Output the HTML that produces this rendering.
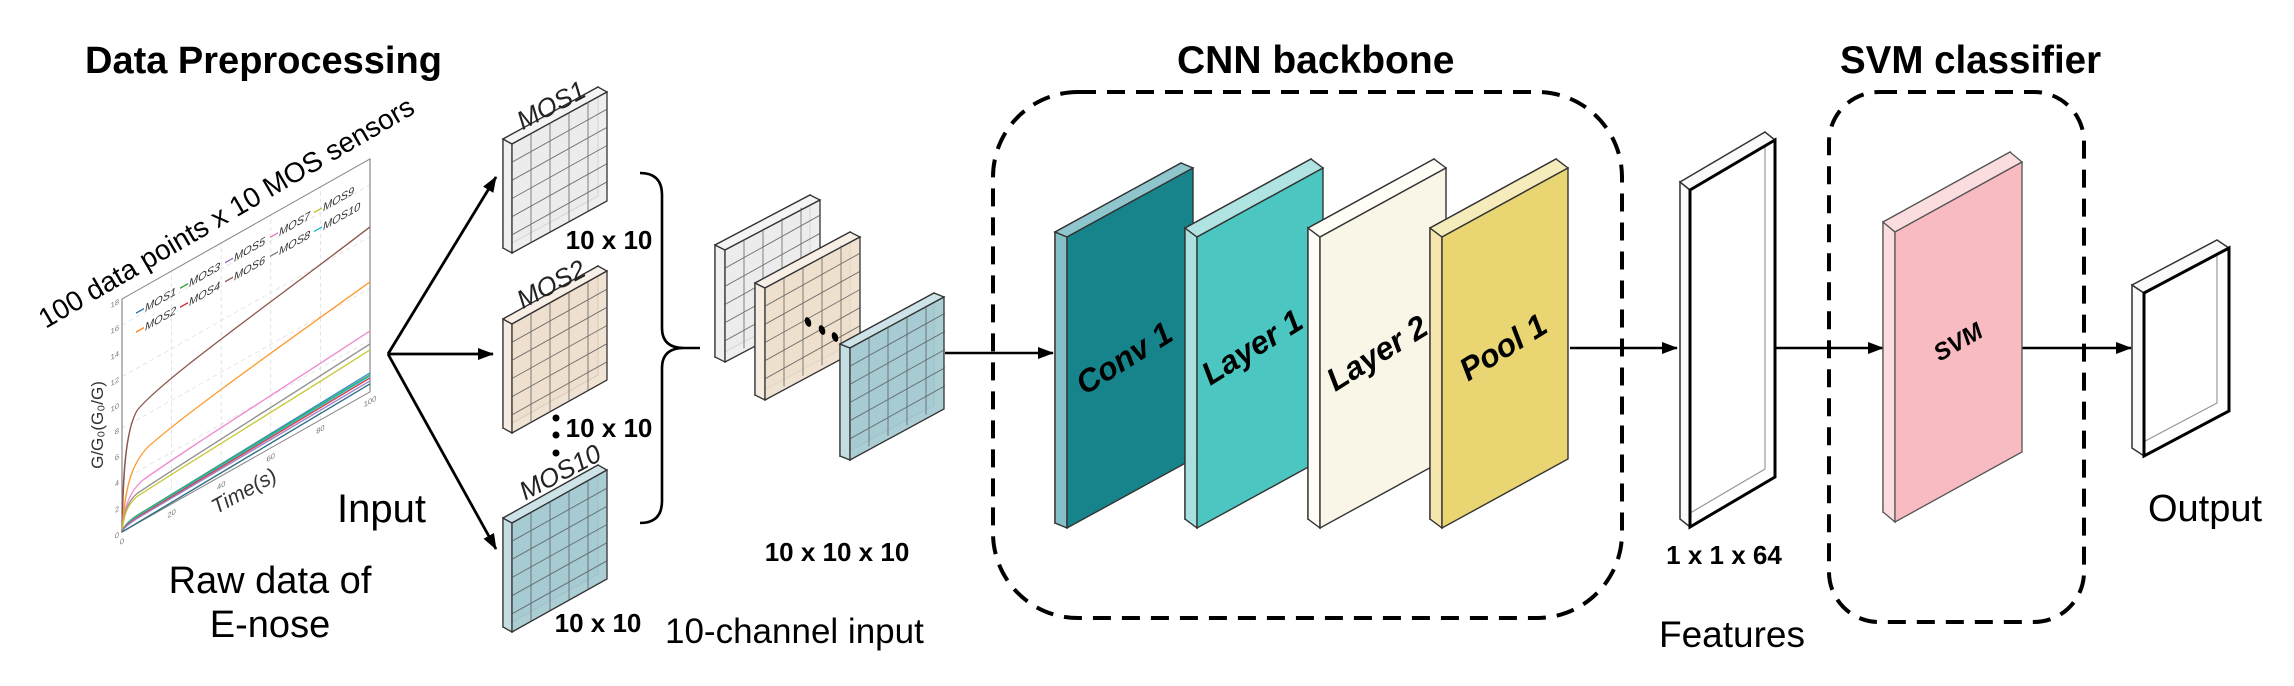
<!DOCTYPE html>
<html><head><meta charset="utf-8"><style>
html,body{margin:0;padding:0;background:#fff;}
svg{display:block;font-family:"Liberation Sans",sans-serif;}
</style></head><body>
<svg width="2294" height="686" viewBox="0 0 2294 686" xmlns="http://www.w3.org/2000/svg">
<defs>
<marker id="ah" markerWidth="16" markerHeight="12" refX="15" refY="6" orient="auto" markerUnits="userSpaceOnUse">
<path d="M0,0 L16,6 L0,12 Z" fill="#000"/></marker>
<g id="grid" stroke="#555" stroke-width="0.9" opacity="0.8">
<line x1="19" y1="-10.6" x2="19" y2="98.4"/><line x1="38" y1="-21.2" x2="38" y2="87.8"/>
<line x1="57" y1="-31.8" x2="57" y2="77.2"/><line x1="76" y1="-42.4" x2="76" y2="66.6"/>
<line x1="0" y1="18.2" x2="95" y2="-34.8"/><line x1="0" y1="36.3" x2="95" y2="-16.7"/>
<line x1="0" y1="54.5" x2="95" y2="1.5"/><line x1="0" y1="72.7" x2="95" y2="19.7"/>
<line x1="0" y1="90.8" x2="95" y2="37.8"/>
</g>
</defs>

<!-- Titles -->
<text x="85" y="73" font-size="38" font-weight="bold">Data Preprocessing</text>
<text x="1177" y="73" font-size="39" font-weight="bold">CNN backbone</text>
<text x="1840" y="73" font-size="38.5" font-weight="bold">SVM classifier</text>

<!-- Chart -->
<text x="226" y="222" font-size="28" text-anchor="middle" transform="rotate(-30.3 226 212)">100 data points x 10 MOS sensors</text>
<g transform="matrix(1,-0.565,0,1,122,532)">
<g stroke="#ddd" stroke-width="0.8" stroke-dasharray="4 3">
<line x1="49.6" y1="0" x2="49.6" y2="-233"/><line x1="99.2" y1="0" x2="99.2" y2="-233"/>
<line x1="148.8" y1="0" x2="148.8" y2="-233"/><line x1="198.4" y1="0" x2="198.4" y2="-233"/>
<line x1="0" y1="-51.8" x2="248" y2="-51.8"/><line x1="0" y1="-103.6" x2="248" y2="-103.6"/>
<line x1="0" y1="-155.3" x2="248" y2="-155.3"/><line x1="0" y1="-207" x2="248" y2="-207"/>
</g>
<rect x="0" y="-233" width="248" height="233" fill="none" stroke="#888" stroke-width="1.2"/>
<g fill="none" stroke-width="1.6">
<path d="M0,0 C1,-60 4,-100 15,-113 C40,-130 150,-145 248,-165" stroke="#8c564b"/>
<path d="M0,0 C3,-45 10,-62 25,-70 C60,-82 150,-95 248,-110" stroke="#ff9a2e"/>
<path d="M0,0 C2,-25 8,-36 20,-40 C60,-46 150,-52 248,-61" stroke="#f08ad0"/>
<path d="M0,0 C2,-20 6,-27 15,-30 C60,-35 150,-40 248,-48" stroke="#8f8f8f"/>
<path d="M0,0 C2,-18 6,-24 15,-27 C60,-31 150,-35 248,-42" stroke="#c8c83a"/>
<path d="M0,0 C2,-5 6,-7 15,-8 L248,-19" stroke="#3b8fd0"/>
<path d="M0,0 C2,-5 6,-7 15,-8 L248,-17" stroke="#3cae3c"/>
<path d="M0,0 C2,-5 6,-6 15,-7 L248,-16" stroke="#20c0d0"/>
<path d="M0,0 C2,-4 6,-5 15,-6 L248,-14" stroke="#d84040"/>
<path d="M0,0 C2,-3 6,-4 15,-5 L248,-11" stroke="#a080d0"/>
<path d="M0,0 L248,-8" stroke="#2a6f80"/>
</g>
<g font-size="7.5" fill="#777" text-anchor="end">
<text x="-3" y="3">0</text><text x="-3" y="-23">2</text><text x="-3" y="-49">4</text><text x="-3" y="-75">6</text><text x="-3" y="-101">8</text><text x="-3" y="-126">10</text><text x="-3" y="-152">12</text><text x="-3" y="-178">14</text><text x="-3" y="-204">16</text><text x="-3" y="-230">18</text>
</g>
<g font-size="7.5" fill="#777" text-anchor="middle">
<text x="0" y="12">0</text><text x="49.6" y="12">20</text><text x="99.2" y="12">40</text><text x="148.8" y="12">60</text><text x="198.4" y="12">80</text><text x="248" y="12">100</text>
</g>
<g font-size="11" font-style="italic" fill="#333">
<line x1="14" y1="-211" x2="22" y2="-211" stroke="#1f77b4" stroke-width="1.5"/><text x="23" y="-207">MOS1</text>
<line x1="14" y1="-192" x2="22" y2="-192" stroke="#ff7f0e" stroke-width="1.5"/><text x="23" y="-188">MOS2</text>
<line x1="58" y1="-211" x2="66" y2="-211" stroke="#2ca02c" stroke-width="1.5"/><text x="67" y="-207">MOS3</text>
<line x1="58" y1="-192" x2="66" y2="-192" stroke="#d62728" stroke-width="1.5"/><text x="67" y="-188">MOS4</text>
<line x1="103" y1="-211" x2="111" y2="-211" stroke="#9467bd" stroke-width="1.5"/><text x="112" y="-207">MOS5</text>
<line x1="103" y1="-192" x2="111" y2="-192" stroke="#8c564b" stroke-width="1.5"/><text x="112" y="-188">MOS6</text>
<line x1="148" y1="-211" x2="156" y2="-211" stroke="#e377c2" stroke-width="1.5"/><text x="157" y="-207">MOS7</text>
<line x1="148" y1="-192" x2="156" y2="-192" stroke="#7f7f7f" stroke-width="1.5"/><text x="157" y="-188">MOS8</text>
<line x1="192" y1="-211" x2="200" y2="-211" stroke="#bcbd22" stroke-width="1.5"/><text x="201" y="-207">MOS9</text>
<line x1="192" y1="-192" x2="200" y2="-192" stroke="#17becf" stroke-width="1.5"/><text x="201" y="-188">MOS10</text>
</g>
</g>
<text x="97" y="431" font-size="17" fill="#333" text-anchor="middle" transform="rotate(-90 97 425)">G/G₀(G₀/G)</text>
<text x="244" y="498" font-size="21" font-style="italic" fill="#333" text-anchor="middle" transform="rotate(-29 244 491)">Time(s)</text>

<text x="337" y="522" font-size="40">Input</text>
<text x="270" y="593" font-size="38" text-anchor="middle">Raw data of</text>
<text x="270" y="637" font-size="38" text-anchor="middle">E-nose</text>

<!-- fan arrows -->
<g stroke="#000" stroke-width="2.8" fill="none">
<line x1="388" y1="354" x2="496" y2="177" marker-end="url(#ah)"/>
<line x1="388" y1="354" x2="493" y2="354" marker-end="url(#ah)"/>
<line x1="388" y1="354" x2="496" y2="549" marker-end="url(#ah)"/>
</g>

<!-- MOS panels -->
<g stroke="#333" stroke-width="1.3">
<g transform="translate(512,144)">
<polygon points="-9,-5 86,-57 86,52 -9,104" fill="#e4e4e4"/>
<polygon points="-9,-5 0,0 0,109 -9,104" fill="#f0f0f0"/>
<polygon points="-9,-5 86,-57 95,-52 0,0" fill="#f4f4f4"/>
<polygon points="0,0 95,-52 95,57 0,109" fill="#ececec" fill-opacity="0.9"/>
<use href="#grid"/>
</g>
<g transform="translate(512,324)">
<polygon points="-9,-5 86,-58 86,51 -9,104" fill="#ead8c6"/>
<polygon points="-9,-5 0,0 0,109 -9,104" fill="#f5ebe0"/>
<polygon points="-9,-5 86,-58 95,-53 0,0" fill="#f7efe6"/>
<polygon points="0,0 95,-53 95,56 0,109" fill="#efe0cf" fill-opacity="0.9"/>
<use href="#grid"/>
</g>
<g transform="translate(512,523)">
<polygon points="-9,-5 86,-58 86,51 -9,104" fill="#9cc4cc"/>
<polygon points="-9,-5 0,0 0,109 -9,104" fill="#c4dde2"/>
<polygon points="-9,-5 86,-58 95,-53 0,0" fill="#cde3e7"/>
<polygon points="0,0 95,-53 95,56 0,109" fill="#a6cbd3" fill-opacity="0.95"/>
<use href="#grid"/>
</g>
</g>
<g font-size="26" font-style="italic" fill="#222" text-anchor="middle">
<text x="551" y="114" transform="rotate(-28 551 105)">MOS1</text>
<text x="551" y="293" transform="rotate(-28 551 284)">MOS2</text>
<text x="560" y="481" transform="rotate(-28 560 472)">MOS10</text>
</g>
<g font-size="26" font-weight="bold" text-anchor="middle">
<text x="609" y="249">10 x 10</text>
<text x="609" y="437">10 x 10</text>
<text x="598" y="632">10 x 10</text>
</g>
<g fill="#000"><circle cx="556" cy="418" r="3.5"/><circle cx="556" cy="435" r="3.5"/><circle cx="556" cy="453" r="3.5"/></g>

<!-- brace -->
<path d="M640,173 Q662,173 662,195 L662,328 Q662,348 684,348 L700,348 M684,348 Q662,348 662,368 L662,501 Q662,523 640,523" fill="none" stroke="#000" stroke-width="2.6"/>

<!-- stacked small panels -->
<g stroke="#333" stroke-width="1.3">
<g transform="translate(725,250)">
<polygon points="-10,-5 85,-55 85,57 -10,107" fill="#e4e4e4"/>
<polygon points="-10,-5 0,0 0,112 -10,107" fill="#f0f0f0"/>
<polygon points="-10,-5 85,-55 95,-50 0,0" fill="#f4f4f4"/>
<polygon points="0,0 95,-50 95,62 0,112" fill="#ececec" fill-opacity="0.9"/>
<use href="#grid" transform="scale(1,1.0)"/>
</g>
<g transform="translate(765,288)">
<polygon points="-10,-5 85,-56 85,56 -10,107" fill="#ead8c6"/>
<polygon points="-10,-5 0,0 0,112 -10,107" fill="#f5ebe0"/>
<polygon points="-10,-5 85,-56 95,-51 0,0" fill="#f7efe6"/>
<polygon points="0,0 95,-51 95,61 0,112" fill="#efe0cf" fill-opacity="0.95"/>
<use href="#grid"/>
</g>
<g transform="translate(850,348)">
<polygon points="-10,-4 84,-55 84,57 -10,108" fill="#9cc4cc"/>
<polygon points="-10,-4 0,0 0,112 -10,108" fill="#c4dde2"/>
<polygon points="-10,-4 84,-55 94,-51 0,0" fill="#cde3e7"/>
<polygon points="0,0 94,-51 94,61 0,112" fill="#a6cbd3" fill-opacity="0.95"/>
<use href="#grid"/>
</g>
</g>
<g fill="#000">
<ellipse cx="808" cy="322" rx="3" ry="5" transform="rotate(-20 808 322)"/>
<ellipse cx="822" cy="330" rx="3" ry="5" transform="rotate(-20 822 330)"/>
<ellipse cx="835" cy="337" rx="3" ry="5" transform="rotate(-20 835 337)"/>
</g>
<text x="837" y="561" font-size="26" font-weight="bold" text-anchor="middle">10 x 10 x 10</text>
<text x="665" y="643" font-size="35">10-channel input</text>

<!-- dashed boxes -->
<rect x="993" y="92" width="629" height="526" rx="85" ry="85" fill="none" stroke="#000" stroke-width="4" stroke-dasharray="18 11"/>
<rect x="1829" y="92" width="255" height="530" rx="50" ry="50" fill="none" stroke="#000" stroke-width="4" stroke-dasharray="18 11"/>

<!-- main arrows -->
<g stroke="#000" stroke-width="2.6">
<line x1="945" y1="353" x2="1053" y2="353" marker-end="url(#ah)"/>
<line x1="1570" y1="348" x2="1677" y2="348" marker-end="url(#ah)"/>
<line x1="1776" y1="348" x2="1883" y2="348" marker-end="url(#ah)"/>
<line x1="2022" y1="348" x2="2131" y2="348" marker-end="url(#ah)"/>
</g>

<!-- CNN slabs -->
<g stroke="#333" stroke-width="1.4">
<g transform="translate(1067,237)">
<polygon points="-12,-5 114,-74 114,217 -12,286" fill="#6fb3bc"/>
<polygon points="-12,-5 0,0 0,291 -12,286" fill="#85c0c8"/>
<polygon points="-12,-5 114,-74 126,-69 0,0" fill="#8fc6cd"/>
<polygon points="0,0 126,-69 126,222 0,291" fill="#17848b"/>
</g>
<g transform="translate(1197,237)">
<polygon points="-12,-9 114,-78 114,213 -12,282" fill="#95d8d6"/>
<polygon points="-12,-9 0,0 0,291 -12,282" fill="#a8e1df"/>
<polygon points="-12,-9 114,-78 126,-69 0,0" fill="#b0e4e2"/>
<polygon points="0,0 126,-69 126,222 0,291" fill="#4bc6c0"/>
</g>
<g transform="translate(1320,237)">
<polygon points="-12,-9 114,-78 114,213 -12,282" fill="#f6f2e0"/>
<polygon points="-12,-9 0,0 0,291 -12,282" fill="#fffdf6"/>
<polygon points="-12,-9 114,-78 126,-69 0,0" fill="#fffdf6"/>
<polygon points="0,0 126,-69 126,222 0,291" fill="#faf6e7"/>
</g>
<g transform="translate(1442,237)">
<polygon points="-12,-9 114,-78 114,213 -12,282" fill="#efdf96"/>
<polygon points="-12,-9 0,0 0,291 -12,282" fill="#f4e6ad"/>
<polygon points="-12,-9 114,-78 126,-69 0,0" fill="#f6ebbb"/>
<polygon points="0,0 126,-69 126,222 0,291" fill="#e9d572"/>
</g>
</g>
<g font-size="32" font-weight="bold" font-style="italic" text-anchor="middle" fill="#000">
<text x="1124" y="369" transform="rotate(-32 1124 358)">Conv 1</text>
<text x="1252" y="358" transform="rotate(-32 1252 347)">Layer 1</text>
<text x="1377" y="364" transform="rotate(-32 1377 353)">Layer 2</text>
<text x="1503" y="358" transform="rotate(-32 1503 347)">Pool 1</text>
</g>

<!-- Features -->
<g transform="translate(1690,190)">
<polygon points="-10,-8 75,-58 75,279 -10,329" fill="none" stroke="#999" stroke-width="1.2"/>
<polygon points="-10,-8 0,0 0,337 -10,329" fill="#fafafa" stroke="#333" stroke-width="1.5"/>
<polygon points="-10,-8 75,-58 85,-50 0,0" fill="#fafafa" stroke="#333" stroke-width="1.5"/>
<polygon points="0,0 85,-50 85,287 0,337" fill="none" stroke="#000" stroke-width="3"/>
</g>
<text x="1724" y="564" font-size="26" font-weight="bold" text-anchor="middle">1 x 1 x 64</text>
<text x="1732" y="647" font-size="37" text-anchor="middle">Features</text>

<!-- SVM -->
<g stroke="#555" stroke-width="1.3" transform="translate(1895,232)">
<polygon points="-12,-10 115,-80 115,210 -12,280" fill="#f7c6ca"/>
<polygon points="-12,-10 0,0 0,290 -12,280" fill="#fbdcdf"/>
<polygon points="-12,-10 115,-80 127,-70 0,0" fill="#fbdcdf"/>
<polygon points="0,0 127,-70 127,220 0,290" fill="#f8bbc1"/>
</g>
<text x="1958" y="350" font-size="24" font-weight="bold" font-style="italic" text-anchor="middle" transform="rotate(-30 1958 342)">SVM</text>

<!-- Output -->
<g transform="translate(2144,293)">
<polygon points="-12,-8 73,-53 73,110 -12,155" fill="none" stroke="#999" stroke-width="1.2"/>
<polygon points="-12,-8 0,0 0,163 -12,155" fill="#fafafa" stroke="#333" stroke-width="1.5"/>
<polygon points="-12,-8 73,-53 85,-45 0,0" fill="#fafafa" stroke="#333" stroke-width="1.5"/>
<polygon points="0,0 85,-45 85,118 0,163" fill="none" stroke="#000" stroke-width="3"/>
</g>
<text x="2205" y="521" font-size="38" text-anchor="middle">Output</text>
</svg>
</body></html>
